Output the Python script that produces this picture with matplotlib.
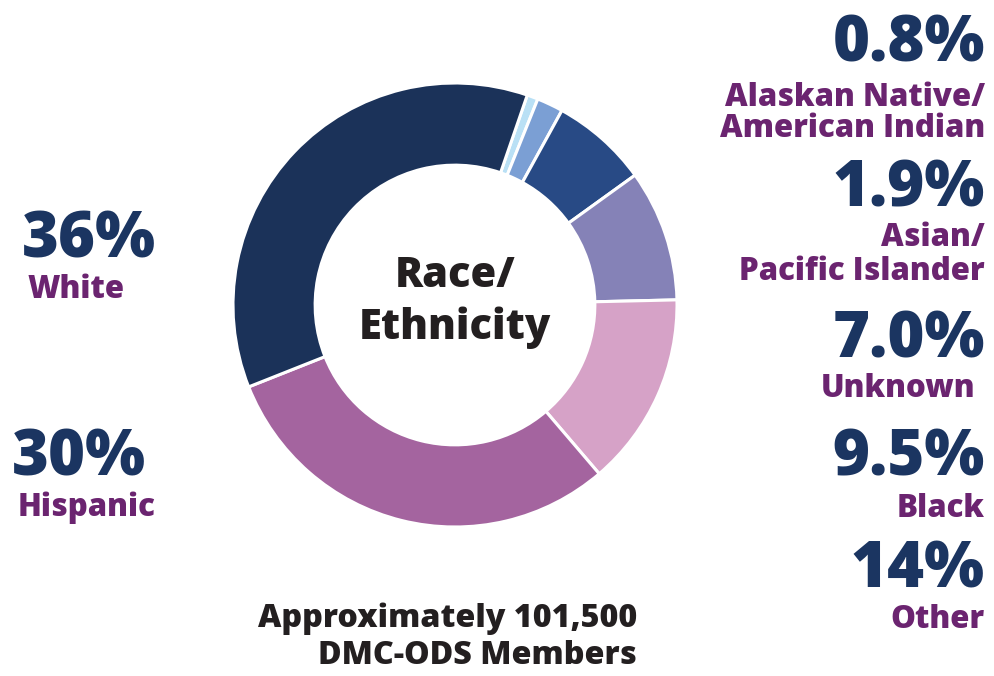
import matplotlib
matplotlib.use("Agg")
import matplotlib.pyplot as plt

plt.rcParams['font.family'] = ['Open Sans', 'DejaVu Sans']

# data, clockwise from the top
groups = ["Alaskan Native/\nAmerican Indian", "Asian/\nPacific Islander", "Unknown",
          "Black", "Other", "Hispanic", "White"]
shares = [0.8, 1.9, 7.0, 9.5, 14, 30, 36]
pct_labels = ["0.8%", "1.9%", "7.0%", "9.5%", "14%", "30%", "36%"]
colors = ["#b9e0f5", "#7b9fd4", "#284a85", "#8582b7", "#d6a2c7", "#a4649f", "#1b3259"]

num_color = "#1b3561"
lab_color = "#6b2470"

W, H = 995, 676
fig = plt.figure(figsize=(W / 100, H / 100), dpi=100)

# donut centre (455, 305) px, radius 222 px
cx, cy, r = 455, 305, 222
ax = fig.add_axes([(cx - r) / W, (H - cy - r) / H, 2 * r / W, 2 * r / H])
ax.pie(shares, colors=colors, startangle=71, counterclock=False,
       wedgeprops=dict(width=0.37, edgecolor="white", linewidth=2.2))
ax.set_xlim(-1, 1)
ax.set_ylim(-1, 1)
ax.set_aspect("equal")
ax.axis("off")

def t(x, y, s, size, color, ha):
    fig.text(x / W, 1 - y / H, s, fontsize=size, color=color, ha=ha,
             va="baseline", fontweight="heavy")

NUM, LAB = 45.5, 22.5

# centre text
t(cx, 287, "Race/", 30, "#231f20", "center")
t(cx, 339, "Ethnicity", 30, "#231f20", "center")

# right side labels
t(985, 62, pct_labels[0], NUM, num_color, "right")
t(985, 106, "Alaskan Native/", LAB, lab_color, "right")
t(985, 137, "American Indian", LAB, lab_color, "right")
t(985, 207, pct_labels[1], NUM, num_color, "right")
t(985, 246, "Asian/", LAB, lab_color, "right")
t(985, 280, "Pacific Islander", LAB, lab_color, "right")
t(985, 357, pct_labels[2], NUM, num_color, "right")
t(975, 397, groups[2], LAB, lab_color, "right")
t(985, 476, pct_labels[3], NUM, num_color, "right")
t(985, 517, groups[3], LAB, lab_color, "right")
t(985, 588, pct_labels[4], NUM, num_color, "right")
t(985, 628, groups[4], LAB, lab_color, "right")

# left side labels
t(22, 257, pct_labels[6], NUM, num_color, "left")
t(28, 298, groups[6], LAB, lab_color, "left")
t(12, 475, pct_labels[5], NUM, num_color, "left")
t(18, 516, groups[5], LAB, lab_color, "left")

# bottom note
t(637, 627, "Approximately 101,500", 23.2, "#231f20", "right")
t(637, 664, "DMC-ODS Members", 23.2, "#231f20", "right")

fig.savefig("out.png", dpi=100)
